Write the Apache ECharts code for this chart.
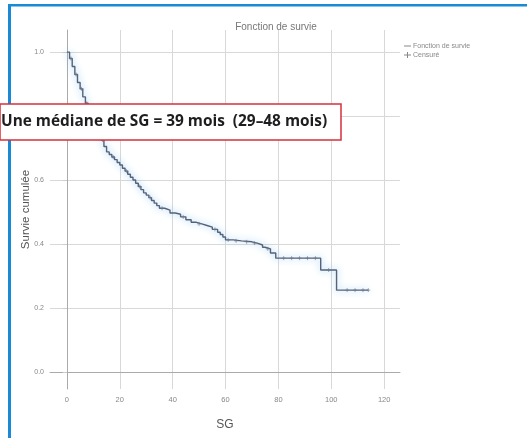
<!DOCTYPE html>
<html>
<head>
<meta charset="utf-8">
<script src="https://cdn.jsdelivr.net/npm/echarts@6/dist/echarts.min.js"></script>
<style>
  html, body { margin: 0; padding: 0; background: #fff; }
  #chart { width: 527px; height: 438px; }
</style>
</head>
<body>
<div id="chart"></div>
<script>
// Kaplan–Meier estimate: event times (months) and cumulative survival
const months = [0, 1, 2, 3, 4, 5, 6, 7, 8, 9, 10, 11, 12, 13, 14, 15, 16, 17, 18, 19,
  20, 21, 22, 23, 24, 25, 26, 27, 28, 29, 30, 31, 32, 33, 34, 35, 37, 39, 41, 43,
  45, 47, 49, 51, 53, 55, 57, 58, 59, 60, 63, 66, 70, 72, 74, 75, 77, 79, 96, 102, 114];
const survival = [1.000, 0.980, 0.955, 0.930, 0.905, 0.885, 0.860, 0.840, 0.820, 0.800,
  0.785, 0.765, 0.745, 0.725, 0.705, 0.688, 0.680, 0.672, 0.664, 0.655,
  0.647, 0.637, 0.628, 0.618, 0.609, 0.600, 0.590, 0.580, 0.570, 0.560,
  0.553, 0.545, 0.536, 0.528, 0.520, 0.512, 0.506, 0.497, 0.493, 0.485,
  0.476, 0.468, 0.463, 0.458, 0.453, 0.446, 0.437, 0.430, 0.422, 0.413,
  0.410, 0.407, 0.403, 0.397, 0.390, 0.385, 0.372, 0.356, 0.319, 0.256, 0.256];

// Censored observations
const censorMonths = [1.5, 3.5, 5.5, 7.5, 10.5, 13.5, 17.5, 22.5, 27.5, 31.5, 36, 44, 50, 56, 61, 64, 68, 71, 76,
  82, 85, 88, 91, 94, 99, 106, 109, 112, 114];
const censorSurvival = [0.980, 0.930, 0.885, 0.840, 0.785, 0.725, 0.672, 0.628, 0.580, 0.545, 0.512, 0.485, 0.463,
  0.446, 0.413, 0.410, 0.407, 0.403, 0.385, 0.356, 0.356, 0.356, 0.356, 0.356, 0.319, 0.256, 0.256, 0.256, 0.256];

const xTicks = [0, 20, 40, 60, 80, 100, 120];
const yTicks = [0, 0.2, 0.4, 0.6, 0.8, 1.0];
const legendNames = ['Fonction de survie', 'Censuré'];

const chart = echarts.init(document.getElementById('chart'), null, { renderer: 'canvas' });

const baseFont = 'Liberation Sans, Arial, sans-serif';
const plusPath = 'path://M5,0 L5,10 M0,5 L10,5';
const curveColor = '#56627a';

chart.setOption({
  animation: false,
  backgroundColor: '#fff',
  title: {
    text: 'Fonction de survie',
    left: 271, top: 17, textAlign: 'center',
    textStyle: { fontFamily: baseFont, fontSize: 10, fontWeight: 'normal', color: '#777' }
  },
  grid: { left: 50, right: 127, top: 30, bottom: 49, containLabel: false },
  xAxis: {
    type: 'value', min: -6.4, max: 126,
    name: 'SG', nameLocation: 'middle', nameGap: 30, nameMoveOverlap: false,
    nameTextStyle: { fontFamily: baseFont, fontSize: 12, color: '#555' },
    axisLine: { show: true, lineStyle: { color: '#aaa' } },
    axisTick: { show: false, customValues: xTicks },
    axisLabel: { customValues: xTicks, fontFamily: baseFont, fontSize: 7.5, color: '#888', margin: 7 },
    splitLine: { show: true, lineStyle: { color: '#d8d8d8', width: 1 } }
  },
  yAxis: {
    type: 'value', min: -0.053, max: 1.069,
    name: 'Survie cumulée', nameLocation: 'middle', nameGap: 18, nameRotate: 90, nameMoveOverlap: false,
    nameTextStyle: { fontFamily: baseFont, fontSize: 11.5, color: '#555' },
    axisLine: { show: true, lineStyle: { color: '#aaa' } },
    axisTick: { show: true, length: 4, customValues: yTicks, lineStyle: { color: '#ccc' } },
    axisLabel: {
      customValues: yTicks, fontFamily: baseFont, fontSize: 7, color: '#888', margin: 6,
      formatter: v => v.toFixed(1)
    },
    splitLine: { show: true, lineStyle: { color: '#d8d8d8', width: 1 } }
  },
  series: [
    {
      name: legendNames[0],
      type: 'line', step: 'end',
      data: months.map((m, i) => [m, survival[i]]),
      showSymbol: false,
      lineStyle: { color: curveColor, width: 1.4, shadowColor: 'rgba(120,190,240,0.9)', shadowBlur: 7 },
      itemStyle: { color: curveColor },
      z: 3
    },
    {
      name: legendNames[1],
      type: 'scatter',
      data: censorMonths.map((m, i) => [m, censorSurvival[i]]),
      symbol: plusPath, symbolSize: 4,
      itemStyle: { color: 'none', borderColor: '#6a7690', borderWidth: 0.8 },
      z: 4
    }
  ],
  graphic: [
    // page frame
    { type: 'rect', z: 100, shape: { x: 8, y: 4, width: 3, height: 434 }, style: { fill: '#1a8ad6' }, silent: true },
    { type: 'rect', z: 100, shape: { x: 8, y: 4, width: 519, height: 2.5 }, style: { fill: '#1a8ad6' }, silent: true },
    // key: survival curve and censored marks
    { type: 'line', z: 50, shape: { x1: 404, y1: 46, x2: 411, y2: 46 }, style: { stroke: '#888', lineWidth: 1 } },
    { type: 'text', z: 50, x: 413, y: 46,
      style: { text: legendNames[0], fill: '#888', fontFamily: baseFont, fontSize: 7, verticalAlign: 'middle' } },
    { type: 'line', z: 50, shape: { x1: 404, y1: 55, x2: 411, y2: 55 }, style: { stroke: '#888', lineWidth: 1 } },
    { type: 'line', z: 50, shape: { x1: 407.5, y1: 52, x2: 407.5, y2: 58 }, style: { stroke: '#888', lineWidth: 1 } },
    { type: 'text', z: 50, x: 413, y: 55,
      style: { text: legendNames[1], fill: '#888', fontFamily: baseFont, fontSize: 7, verticalAlign: 'middle' } },
    // median callout
    { type: 'rect', z: 100, shape: { x: 0, y: 104, width: 341, height: 36 },
      style: { fill: '#fff', stroke: '#d6313b', lineWidth: 1.5 } },
    { type: 'text', z: 101, x: 1, y: 122,
      style: { text: 'Une médiane de SG = 39 mois  (29–48 mois)', fill: '#1e1e1e',
        fontFamily: 'Open Sans', fontWeight: 'bold', fontSize: 15.4,
        verticalAlign: 'middle', align: 'left' } }
  ]
});
</script>
</body>
</html>
